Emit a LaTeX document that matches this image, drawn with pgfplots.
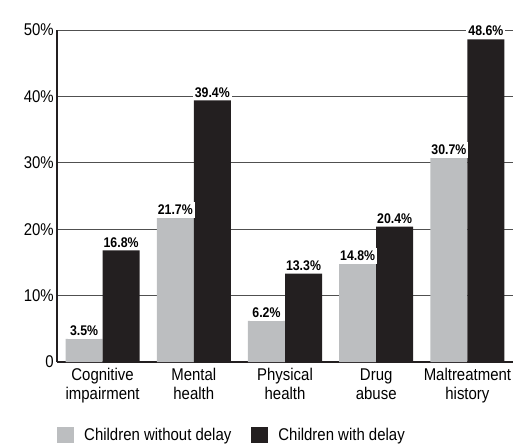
\documentclass[border=0pt]{standalone}
\usepackage{fontspec}
\setmainfont{Liberation Sans}[FakeStretch=0.88]
\usepackage{pgfplots}
\pgfplotsset{compat=1.18}
\definecolor{cgrey}{HTML}{BCBEC0}
\definecolor{cblack}{HTML}{231F20}
\definecolor{cgrid}{HTML}{505050}
\begin{document}
\begin{tikzpicture}[x=1pt,y=1pt]
\begin{axis}[
  name=main,
  scale only axis, width=456pt, height=332pt,
  xmin=-0.5, xmax=4.5, ymin=0, ymax=50,
  axis x line*=bottom, axis y line*=left,
  axis line style={line width=1.6pt, color=cblack},
  /pgf/number format/assume math mode=true,
  xtick={0,1,2,3,4},
  xticklabels={{Cognitive\\impairment},{Mental\\health},{Physical\\health},{Drug\\abuse},{Maltreatment\\history}},
  x tick label style={align=center, font=\fontsize{17}{19}\selectfont, inner sep=2pt},
  major x tick style={draw=none},
  extra x ticks={0.5,1.5,2.5,3.5,4.5},
  extra x tick labels={},
  extra x tick style={major tick length=7pt, tick align=inside, tick style={line width=1pt, color=cblack}},
  ytick={0,10,20,30,40,50},
  yticklabels={0,10\%,20\%,30\%,40\%,50\%},
  y tick label style={font=\fontsize{17}{19}\selectfont, inner sep=3pt},
  major y tick style={draw=none},
  ymajorgrids, grid style={line width=1pt, color=cgrid},
  ybar, bar width=0.406,
  nodes near coords={\pgfmathprintnumber[fixed,precision=1,fixed zerofill]{\pgfplotspointmeta}\%},
  nodes near coords style={font=\bfseries\fontsize{14}{14}\selectfont, fill=white, inner xsep=2pt, inner ysep=3pt, anchor=south},
  legend style={at={(0,-0.247)}, anchor=south west, draw=none, inner sep=0pt, legend columns=2,
    font=\fontsize{17}{19}\selectfont,
    /tikz/every odd column/.append style={column sep=8pt},
    /tikz/every even column/.append style={column sep=18pt}},
  legend cell align=left,
  legend image code/.code={\fill[#1,draw=none] (0pt,-8pt) rectangle (17pt,8pt);},
]
\addplot[fill=cgrey, draw=none, bar shift=-0.203] coordinates {(0,3.5) (1,21.7) (2,6.2) (3,14.8) (4,30.7)};
\addplot[fill=cblack, draw=none, bar shift=0.203] coordinates {(0,16.8) (1,39.4) (2,13.3) (3,20.4) (4,48.6)};
\legend{Children without delay, Children with delay}
\coordinate (ll) at (rel axis cs:0,0);
\end{axis}
\pgfresetboundingbox
\path (ll) ++(-57,-82) rectangle ++(518,444);
\end{tikzpicture}
\end{document}
